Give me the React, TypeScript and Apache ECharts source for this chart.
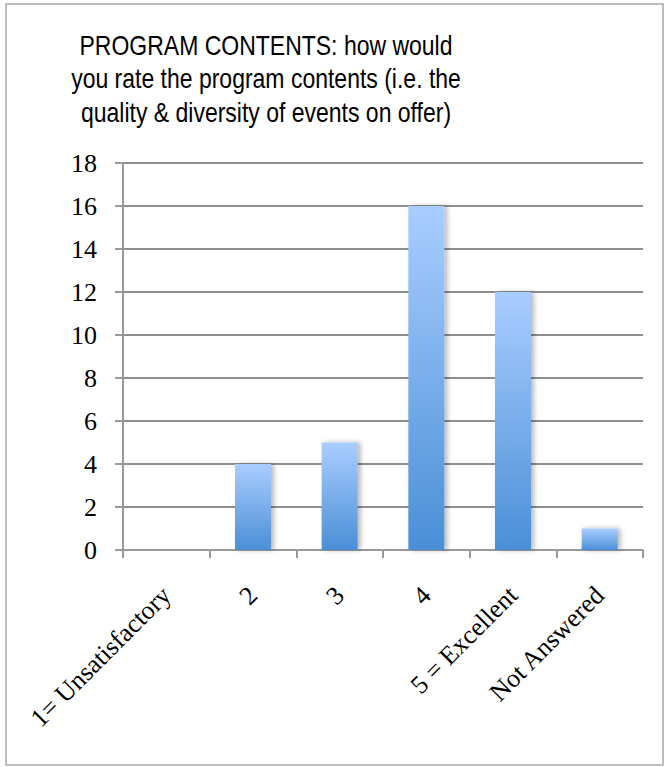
import React, { useEffect, useRef } from "react";
import * as echarts from "echarts";

const categories = ["1= Unsatisfactory", "2", "3", "4", "5 = Excellent", "Not Answered"];
const responses = [0, 4, 5, 16, 12, 1];
const titleLines = [
  "PROGRAM CONTENTS: how would",
  "you rate the program contents (i.e. the",
  "quality & diversity of events on offer)",
];
const yMin = 0;
const yMax = 18;
const yStep = 2;

const W = 667;
const H = 767;

export default function App() {
  const ref = useRef<HTMLDivElement>(null);

  useEffect(() => {
    if (!ref.current) return;
    const chart = echarts.init(ref.current, null, { renderer: "svg", width: W, height: H });

    const serif = "'Liberation Serif', 'DejaVu Serif', serif";
    const sans = "'Liberation Sans', Arial, sans-serif";

    chart.setOption({
      animation: false,
      backgroundColor: "#ffffff",
      graphic: [
        {
          type: "rect",
          shape: { x: 6, y: 4, width: 657, height: 761 },
          style: { fill: "none", stroke: "#a8a8a8", lineWidth: 1.5 },
          silent: true,
          z: -1,
        },
        {
          type: "text",
          x: 266,
          y: 28,
          scaleY: 1.2,
          style: {
            text: titleLines.join("\n"),
            font: `23px ${sans}`,
            lineHeight: 28,
            fill: "#000000",
            align: "center",
            verticalAlign: "top",
          },
        },
      ],
      grid: { left: 123, right: 24, top: 163, bottom: 217, containLabel: false },
      xAxis: {
        type: "category",
        data: categories,
        axisLine: { show: true, lineStyle: { color: "#9a9a9a", width: 2 } },
        axisTick: { show: true, length: 8, lineStyle: { color: "#9a9a9a", width: 2 } },
        axisLabel: {
          rotate: 45,
          margin: 41,
          interval: 0,
          color: "#000000",
          fontFamily: serif,
          fontSize: 26,
        },
      },
      yAxis: {
        type: "value",
        min: yMin,
        max: yMax,
        interval: yStep,
        axisLine: { show: true, lineStyle: { color: "#9a9a9a", width: 2 } },
        axisTick: { show: true, length: 8, lineStyle: { color: "#9a9a9a", width: 2 } },
        splitLine: { show: true, lineStyle: { color: "#8e8e8e", width: 2 } },
        axisLabel: {
          margin: 26,
          color: "#000000",
          fontFamily: serif,
          fontSize: 26,
        },
      },
      series: [
        {
          type: "bar",
          data: responses,
          barWidth: 36,
          itemStyle: {
            color: new echarts.graphic.LinearGradient(0, 0, 0, 1, [
              { offset: 0, color: "#aacdff" },
              { offset: 1, color: "#4a8fd6" },
            ]),
            shadowColor: "rgba(0,0,0,0.28)",
            shadowBlur: 5,
            shadowOffsetX: 3,
          },
        },
      ],
    });

    return () => chart.dispose();
  }, []);

  return (
    <div
      ref={ref}
      style={{ position: "absolute", left: 0, top: 0, width: W, height: H }}
    />
  );
}
